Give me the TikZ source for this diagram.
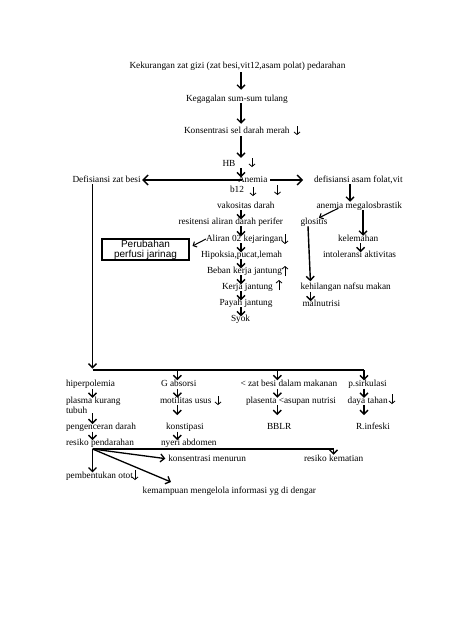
\documentclass[tikz,border=0pt]{standalone}
\usepackage{fontspec}
\setmainfont{Liberation Serif}
\newfontfamily\boxfont{Liberation Sans}
\usetikzlibrary{arrows.meta,calc}
\begin{document}
\begin{tikzpicture}[x=1pt,y=-1pt,
  every node/.style={inner sep=0pt,outer sep=0pt},
  lbl/.style={anchor=west,font=\fontsize{9.3}{10}\selectfont,text height=6.5pt,text depth=2pt},
  arr/.style={line width=1.4pt,-{Straight Barb[length=4pt,width=8pt]}},
  bigarr/.style={line width=1.4pt,-{Straight Barb[length=5pt,width=10pt]}},
  thinarr/.style={line width=1pt,-{Straight Barb[length=3pt,width=6pt]}},
  plain/.style={line width=1.4pt},
  dn/.pic={\draw[line width=0.8pt,-{Straight Barb[length=2.5pt,width=6pt]}] (0,-5) -- (0,4);},
  tdn/.pic={\draw[line width=0.5pt,-{Straight Barb[length=2.5pt,width=6pt,line width=0.8pt]}] (0,-6) -- (0,4);},
  tup/.pic={\draw[line width=0.5pt,-{Straight Barb[length=2.5pt,width=6pt,line width=0.8pt]}] (0,5) -- (0,-5);}
]
\fill[white] (0,0) rectangle (474,632);
\useasboundingbox (0,0) rectangle (474,632);

% spine coordinates
\coordinate (sp) at (241,0);
\coordinate (cA) at (92.5,370);
\coordinate (cB) at (177.3,370);
\coordinate (cC) at (277.3,370);
\coordinate (cD) at (364,370);
\coordinate (o) at (92.5,449);
\coordinate (kpt) at (171,482);

% top chain
\node[lbl] (k1) at (129.5,66) {Kekurangan zat gizi (zat besi,vit12,asam polat) pedarahan};
\node[lbl] (k2) at (186,99) {Kegagalan sum-sum tulang};
\node[lbl] (k3) at (184,131) {Konsentrasi sel darah merah};
\node[lbl] (hb) at (222.5,164) {HB};
\node[lbl] (an) at (238,180) {Anemia};
\node[lbl] (dzb) at (72.5,180) {Defisiansi zat besi};
\node[lbl] (dfa) at (314,180) {defisiansi asam folat,vit};
\node[lbl] (b12) at (230,190) {b12};
\node[lbl] (vak) at (217,206) {vakositas darah};
\node[lbl] (res) at (178.5,222) {resitensi aliran darah perifer};
\node[lbl] (ali) at (206,239) {Aliran 02 kejaringan};
\node[lbl] (hip) at (201,255) {Hipoksia,pucat,lemah};
\node[lbl] (beb) at (207,271) {Beban kerja jantung};
\node[lbl] (kj) at (222,287) {Kerja jantung};
\node[lbl] (pj) at (219.5,303) {Payah jantung};
\node[lbl] (syk) at (231,319) {Syok};

% right branch
\node[lbl] (amb) at (316.5,206) {anemia megalosbrastik};
\node[lbl] (glo) at (300.5,222) {glositis};
\node[lbl] (kel) at (338,239) {kelemahan};
\node[lbl] (int) at (323,255) {intoleransi aktivitas};
\node[lbl] (khn) at (300.5,287.5) {kehilangan nafsu makan};
\node[lbl] (mal) at (302.5,304) {malnutrisi};

% box
\node[draw,line width=1.3pt,minimum width=87pt,minimum height=21pt,align=center,
      font=\boxfont\fontsize{10}{10}\selectfont] (pb) at (145.5,249.5) {Perubahan\\perfusi jarinag};

% lower rows
\node[lbl] (hpl) at (66,384.5) {hiperpolemia};
\node[lbl] (gab) at (161,384.5) {G absorsi};
\node[lbl] (zb) at (240.5,384.5) {< zat besi dalam makanan};
\node[lbl] (psk) at (348.3,384.5) {p.sirkulasi};
\node[anchor=north west,align=left,font=\fontsize{9.3}{10}\selectfont] (pk) at (66,396.8) {plasma kurang\\tubuh};
\node[lbl] (mot) at (160,401) {motilitas usus};
\node[lbl] (pla) at (246,401) {plasenta <asupan nutrisi};
\node[lbl] (dt) at (347.7,401) {daya tahan};
\node[lbl] (pen) at (66,427.3) {pengenceran darah};
\node[lbl] (kon) at (166,427.3) {konstipasi};
\node[lbl] (bbl) at (267,427.3) {BBLR};
\node[lbl] (rin) at (356,427.3) {R.infeski};
\node[lbl] (rp) at (66,443.3) {resiko pendarahan};
\node[lbl] (nya) at (161,443.3) {nyeri abdomen};
\node[lbl] (km) at (168.3,459) {konsentrasi menurun};
\node[lbl] (rk) at (304,459) {resiko kematian};
\node[lbl] (po) at (66,476.7) {pembentukan otot};
\node[lbl] (kp) at (142.7,491.7) {kemampuan mengelola informasi yg di dengar};

% spine arrows
\draw[arr,shorten <=2pt,shorten >=5pt] (k1.south -| sp) -- (k2.north -| sp);
\draw[arr,shorten <=0pt,shorten >=3pt] (k2.south -| sp) -- (k3.north -| sp);
\draw[arr,shorten <=1pt,shorten >=2pt] (k3.south -| sp) -- (hb.north -| sp);
\foreach \a/\b in {hb/an,vak/res,res/ali,ali/hip,hip/beb,beb/kj,kj/pj,pj/syk}
  \draw[arr,shorten >=-1.5pt] (\a.south -| sp) -- (\b.north -| sp);

% anemia branches
\draw[bigarr,shorten <=-4pt,shorten >=1.5pt] (an.west) -- (dzb.east);
\draw[bigarr,shorten <=3pt,shorten >=11pt] (an.east) -- (dfa.west);

% right branch arrows
\draw[arr] (dfa.south -| 350,0) -- (amb.north -| 350,0);
\draw[thinarr,line width=1.1pt] ($(amb.south west)+(21.8,-2)$) -- ($(glo.north east)+(-8.4,0)$);
\draw[arr,shorten >=-1pt] (amb.south -| 363,0) -- (kel.north -| 363,0);
\draw[arr,shorten >=-1.5pt] (kel.south -| 360.7,0) -- (int.north -| 360.7,0);
\draw[arr,shorten >=2pt] ($(glo.south west)+(7.5,0)$) -- ($(khn.north west)+(10,0)$);
\draw[arr,shorten >=-1.5pt] (khn.south -| 310.7,0) -- (mal.north -| 310.7,0);

% box arrow
\draw[thinarr] (ali.west) -- ($(pb.east)+(3.5,-3.5)$);

% small indicator arrows
\pic at (297,131) {dn};
\pic at (252,163) {dn};
\pic at (253,192) {dn};
\pic at (277.5,191) {tdn};
\pic at (285,240) {tdn};
\pic at (285,271) {tup};
\pic at (279,285) {tup};
\pic at (218,401) {dn};
\pic at (392,400) {tdn};
\pic at (135,476) {tdn};

% left trunk and distribution line
\draw[arr,shorten >=1.5pt] (dzb.south -| cA) -- (cA);
\draw[plain] (cA) -- (cD);
\draw[arr] (cB) -- (cB |- gab.north);
\draw[arr] (cC) -- (cC |- zb.north);
\draw[arr] (cD) -- (cD |- psk.north);

% column arrows
\draw[arr,shorten >=-1pt] (hpl.south -| cA) -- (pk.north -| cA);
\draw[arr,shorten >=-1pt] (pk.south -| cA) -- (pen.north -| cA);
\draw[arr,shorten >=-1pt] (pen.south -| cA) -- (rp.north -| cA);
\draw[arr,shorten >=-1pt] (gab.south -| cB) -- (mot.north -| cB);
\draw[arr,shorten >=8pt] (mot.south -| cB) -- (kon.north -| cB);
\draw[arr,shorten >=-1pt] (kon.south -| cB) -- (nya.north -| cB);
\draw[arr,shorten >=-1pt] (zb.south -| cC) -- (pla.north -| cC);
\draw[arr,shorten >=8pt] (pla.south -| cC) -- (bbl.north -| cC);
\draw[arr,shorten >=-1pt] (psk.south -| cD) -- (dt.north -| cD);
\draw[arr,shorten >=8pt] (dt.south -| cD) -- (rin.north -| cD);

% bottom fan
\draw[arr,line width=1.3pt] (o) -| (rk.north);
\draw[arr,line width=1.3pt,shorten >=3pt] (o) -- (km.west);
\draw[arr,line width=1.3pt] (o) -- (o |- po.north);
\draw[arr,line width=1.3pt] (o) -- (kpt);
\end{tikzpicture}
\end{document}
